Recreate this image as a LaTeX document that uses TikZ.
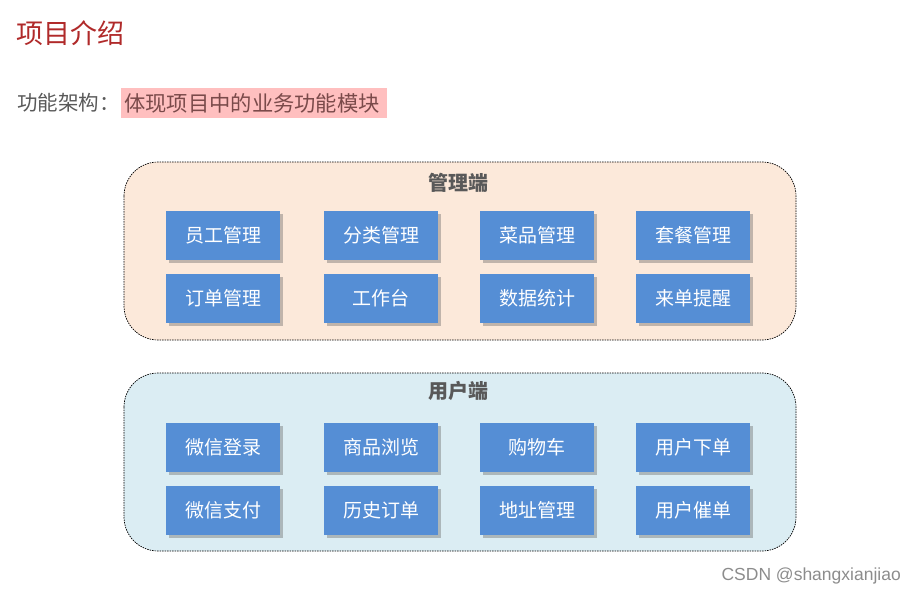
\documentclass[tikz,border=0pt]{standalone}
\usepackage{fontspec}
\setmainfont{Noto Sans CJK SC}
\newfontfamily\wmfont{Liberation Sans}
\usetikzlibrary{shadows}
\definecolor{titlered}{HTML}{B02A2A}
\definecolor{txtgray}{HTML}{595959}
\definecolor{hlpink}{HTML}{FFBFBF}
\definecolor{hltext}{HTML}{7A4A4A}
\definecolor{topfill}{HTML}{FCE9DA}
\definecolor{botfill}{HTML}{DBEDF3}
\definecolor{boxblue}{HTML}{558ED5}
\tikzset{
  x=1pt, y=-1pt,
  container/.style={draw=black, dash pattern=on 1.5pt off 1pt, line width=0.7pt, rounded corners=34pt},
  modbox/.style={fill=boxblue, minimum width=114pt, minimum height=49pt, inner sep=0pt,
    text=white, font=\fontsize{19}{21}\selectfont,
    drop shadow={shadow xshift=3pt, shadow yshift=-3pt, opacity=0.4, fill=black!60}},
  grouptitle/.style={text=txtgray, font=\fontsize{20}{22}\selectfont\bfseries}
}
\begin{document}
\begin{tikzpicture}
\useasboundingbox (0,0) rectangle (916,595);
\node[anchor=west, text=titlered, font=\fontsize{27}{29}\selectfont, inner sep=0pt] (title) at (16,33) {项目介绍};
\node[anchor=west, text=txtgray, font=\fontsize{20.5}{22}\selectfont, inner sep=0pt] (lbl) at (17,103) {功能架构：};
\node[anchor=west, fill=hlpink, text=hltext, font=\fontsize{21.3}{23}\selectfont, minimum height=30pt, text width=260pt, inner sep=3pt, align=left] (hl) at (121,103) {体现项目中的业务功能模块};

\draw[container, fill=topfill] (124,162) rectangle (796,340);
\node[grouptitle] (gtop) at (458,183) {管理端};
\draw[container, fill=botfill] (124,373) rectangle (796,551);
\node[grouptitle] (gbot) at (458,391) {用户端};

\node[modbox] (a1) at (223,235.5) {员工管理};
\node[modbox] (a2) at (381,235.5) {分类管理};
\node[modbox] (a3) at (537,235.5) {菜品管理};
\node[modbox] (a4) at (693,235.5) {套餐管理};
\node[modbox] (b1) at (223,298.5) {订单管理};
\node[modbox] (b2) at (381,298.5) {工作台};
\node[modbox] (b3) at (537,298.5) {数据统计};
\node[modbox] (b4) at (693,298.5) {来单提醒};

\node[modbox] (c1) at (223,447.5) {微信登录};
\node[modbox] (c2) at (381,447.5) {商品浏览};
\node[modbox] (c3) at (537,447.5) {购物车};
\node[modbox] (c4) at (693,447.5) {用户下单};
\node[modbox] (d1) at (223,510.5) {微信支付};
\node[modbox] (d2) at (381,510.5) {历史订单};
\node[modbox] (d3) at (537,510.5) {地址管理};
\node[modbox] (d4) at (693,510.5) {用户催单};

\node[anchor=east, text=black!45, font=\wmfont\fontsize{17.5}{19}\selectfont, inner sep=0pt] (wm) at (901,576) {CSDN @shangxianjiao};
\end{tikzpicture}
\end{document}
